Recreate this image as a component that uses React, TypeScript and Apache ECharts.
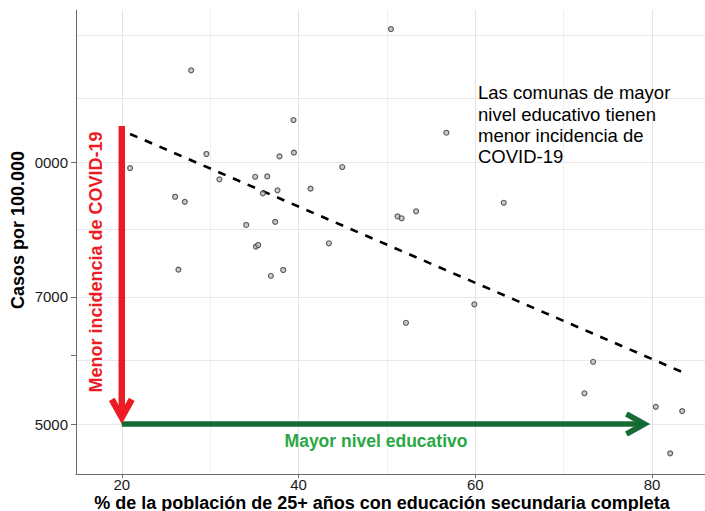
import React, { useEffect, useRef } from "react";
import * as echarts from "echarts";

// % of population 25+ with complete secondary education
const pctSecundaria = [
  27.85, 39.43, 29.58, 37.85, 39.48, 20.94, 35.1, 36.46, 31.05, 35.97, 37.62, 41.36,
  26.04, 27.13, 34.08, 37.36, 35.18, 35.44, 43.44, 26.41, 36.87, 38.27, 50.46, 56.73,
  44.95, 63.22, 53.3, 51.21, 51.67, 59.9, 52.16, 73.34, 72.36, 80.43, 83.42, 82.06,
];
// Cases per 100.000
const casos = [
  12745, 11175, 10214, 10150, 10250, 9840, 9617, 9626, 9550, 9204, 9278, 9320,
  9122, 9000, 8466, 8536, 7994, 8029, 8065, 7522, 7401, 7515, 14214, 10806,
  9868, 8978, 8777, 8659, 8617, 6863, 6536, 5895, 5424, 5233, 5174, 4627,
];

const xTicks = [20, 40, 60, 80];
const xMinorGrid = [30, 50, 70];
const xRange = [14.82, 86.0];

const yTickValues = [5000, 6000, 7000, 10000];
const yLabelValues = [5000, 7000, 10000];
const yLabelTexts = ["5000", "7000", "0000"];
const yGridValues = [5000, 5916, 7000, 8367, 10000, 11832, 14000];
const yRange = [4381, 14950];

// Annotation arrows: [x1, y1, x2, y2]
const redArrow = [20, 11000, 20, 5000];
const greenArrow = [20, 5000, 79.8, 5000];

const FONT = "'Liberation Sans', Arial, Helvetica, sans-serif";
const lg = (v: number) => Math.log10(v);

function regression() {
  const ly = casos.map(lg);
  const n = pctSecundaria.length;
  const mx = pctSecundaria.reduce((a, b) => a + b, 0) / n;
  const my = ly.reduce((a, b) => a + b, 0) / n;
  let sxy = 0;
  let sxx = 0;
  for (let i = 0; i < n; i++) {
    sxy += (pctSecundaria[i] - mx) * (ly[i] - my);
    sxx += (pctSecundaria[i] - mx) ** 2;
  }
  const b = sxy / sxx;
  const a = my - b * mx;
  const x0 = Math.min(...pctSecundaria);
  const x1 = Math.max(...pctSecundaria);
  return [
    [x0, a + b * x0],
    [x1, a + b * x1],
  ];
}

function arrowSeries(arr: number[], color: string, width: number, z: number) {
  return {
    type: "custom",
    z,
    silent: true,
    xAxisIndex: 0,
    yAxisIndex: 0,
    encode: { x: [0, 2], y: [1, 3] },
    data: [[arr[0], lg(arr[1]), arr[2], lg(arr[3])]],
    renderItem: (params: any, api: any) => {
      const a = api.coord([api.value(0), api.value(1)]);
      const b = api.coord([api.value(2), api.value(3)]);
      const dx = b[0] - a[0];
      const dy = b[1] - a[1];
      const len = Math.hypot(dx, dy);
      const ux = dx / len;
      const uy = dy / len;
      const hl = 18;
      const hw = 10;
      const sinT = hw / Math.hypot(hl, hw);
      const m = width / 2 / sinT;
      const tip = [b[0] - ux * m, b[1] - uy * m];
      const back = [tip[0] - ux * hl, tip[1] - uy * hl];
      const p1 = [back[0] - uy * hw, back[1] + ux * hw];
      const p2 = [back[0] + uy * hw, back[1] - ux * hw];
      return {
        type: "group",
        children: [
          {
            type: "line",
            shape: { x1: a[0], y1: a[1], x2: tip[0] - ux * 2, y2: tip[1] - uy * 2 },
            style: { stroke: color, lineWidth: width, lineCap: "butt" },
          },
          {
            type: "polyline",
            shape: { points: [p1, tip, p2] },
            style: { stroke: color, fill: null, lineWidth: width, lineJoin: "miter", lineCap: "butt" },
          },
        ],
      };
    },
  };
}

export default function App() {
  const ref = useRef<HTMLDivElement>(null);

  useEffect(() => {
    if (!ref.current) return;
    const chart = echarts.init(ref.current, undefined, { renderer: "svg" });
    const fit = regression();

    const hiddenAxisParts = {
      axisLine: { show: false },
      axisLabel: { show: false },
    };

    chart.setOption({
      animation: false,
      backgroundColor: "#ffffff",
      grid: { left: 76, right: 0, top: 10, bottom: 37 },
      xAxis: [
        {
          type: "value",
          min: xRange[0],
          max: xRange[1],
          axisLine: { show: true, onZero: false, lineStyle: { color: "#6b6b6b", width: 1 } },
          axisTick: { show: true, length: 4, customValues: xTicks, lineStyle: { color: "#6b6b6b" } },
          axisLabel: {
            customValues: xTicks,
            fontSize: 15,
            color: "#1a1a1a",
            fontFamily: FONT,
            margin: 3,
          },
          splitLine: { show: true, lineStyle: { color: "#e4e4e4", width: 1 } },
        },
        {
          type: "value",
          min: xRange[0],
          max: xRange[1],
          position: "bottom",
          ...hiddenAxisParts,
          axisTick: { show: false, customValues: xMinorGrid },
          splitLine: { show: true, lineStyle: { color: "#efefef", width: 1 } },
        },
      ],
      yAxis: [
        {
          type: "value",
          min: lg(yRange[0]),
          max: lg(yRange[1]),
          axisLine: { show: true, onZero: false, lineStyle: { color: "#6b6b6b", width: 1 } },
          axisTick: { show: true, length: 5, customValues: yTickValues.map(lg), lineStyle: { color: "#6b6b6b" } },
          axisLabel: {
            customValues: yLabelValues.map(lg),
            formatter: (v: number) => {
              let best = 0;
              yLabelValues.forEach((lv, i) => {
                if (Math.abs(lg(lv) - v) < Math.abs(lg(yLabelValues[best]) - v)) best = i;
              });
              return yLabelTexts[best];
            },
            fontSize: 15,
            color: "#1a1a1a",
            fontFamily: FONT,
            margin: 8,
          },
          splitLine: { show: false },
        },
        {
          type: "value",
          min: lg(yRange[0]),
          max: lg(yRange[1]),
          position: "left",
          ...hiddenAxisParts,
          axisTick: { show: false, customValues: yGridValues.map(lg) },
          splitLine: { show: true, lineStyle: { color: "#e8e8e8", width: 1 } },
        },
      ],
      series: [
        {
          type: "line",
          z: 3,
          silent: true,
          data: fit,
          symbol: "none",
          lineStyle: { color: "#000", width: 2.6, type: [8, 8] },
        },
        {
          type: "scatter",
          z: 4,
          silent: true,
          symbol: "circle",
          symbolSize: 5,
          data: pctSecundaria.map((x, i) => [x, lg(casos[i])]),
          itemStyle: { color: "#bdbdbd", borderColor: "#333333", borderWidth: 1.1 },
        },
        arrowSeries(greenArrow, "#166b34", 5.6, 5),
        arrowSeries(redArrow, "#ed1c24", 6.5, 6),
      ],
      graphic: [
        {
          type: "text",
          x: 18,
          y: 230,
          rotation: Math.PI / 2,
          style: {
            text: "Casos por 100.000",
            fontSize: 18,
            fontWeight: "bold",
            fontFamily: FONT,
            fill: "#000",
            align: "center",
            verticalAlign: "middle",
            textAlign: "center",
            textVerticalAlign: "middle",
          },
        },
        {
          type: "text",
          x: 382,
          y: 503,
          style: {
            text: "% de la población de 25+ años con educación secundaria completa",
            fontSize: 18,
            fontWeight: "bold",
            fontFamily: FONT,
            fill: "#000",
            align: "center",
            verticalAlign: "middle",
            textAlign: "center",
            textVerticalAlign: "middle",
          },
        },
        {
          type: "text",
          x: 96,
          y: 262,
          rotation: Math.PI / 2,
          z: 10,
          style: {
            text: "Menor incidencia de COVID-19",
            fontSize: 18,
            fontWeight: "bold",
            fontFamily: FONT,
            fill: "#ed1c24",
            align: "center",
            verticalAlign: "middle",
            textAlign: "center",
            textVerticalAlign: "middle",
          },
        },
        {
          type: "text",
          x: 376,
          y: 441,
          z: 10,
          style: {
            text: "Mayor nivel educativo",
            fontSize: 17.5,
            fontWeight: "bold",
            fontFamily: FONT,
            fill: "#2aa844",
            align: "center",
            verticalAlign: "middle",
            textAlign: "center",
            textVerticalAlign: "middle",
          },
        },
        {
          type: "text",
          x: 478,
          y: 82,
          z: 10,
          style: {
            text: "Las comunas de mayor\nnivel educativo tienen\nmenor incidencia de\nCOVID-19",
            fontSize: 18.5,
            lineHeight: 21.4,
            fontFamily: FONT,
            fill: "#000",
            align: "left",
            verticalAlign: "top",
            textAlign: "left",
            textVerticalAlign: "top",
          },
        },
      ],
    });

    return () => chart.dispose();
  }, []);

  return (
    <div
      ref={ref}
      style={{ position: "fixed", left: 0, top: 0, width: 705, height: 511, background: "#fff" }}
    />
  );
}
